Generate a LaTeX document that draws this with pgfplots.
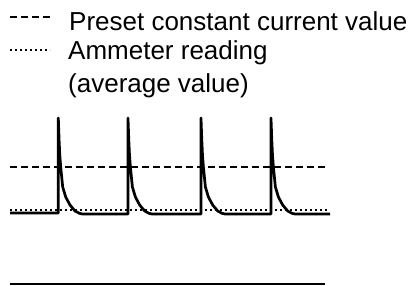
\documentclass[border=0pt]{standalone}
\usepackage{fontspec}
\setmainfont{Liberation Sans}
\usepackage{pgfplots}
\pgfplotsset{compat=1.18}
\begin{document}
\begin{tikzpicture}
\begin{axis}[
  width=415pt, height=285pt, scale only axis,
  xmin=0, xmax=415, ymin=0, ymax=285, y dir=reverse,
  hide axis, clip=false,
]
\addplot[draw=none] coordinates {(0,0) (415,285)};
% legend samples
\addplot[black, line width=2.5pt, dash pattern=on 6.5pt off 4.5pt] coordinates {(10,17) (50,17)};
\addplot[black, line width=2.5pt, dash pattern=on 2.4pt off 2.6pt] coordinates {(10,50) (50,50)};
% preset constant current value
\addplot[black, line width=2.5pt, dash pattern=on 6.5pt off 4.5pt] coordinates {(10,167) (325,167)};
% ammeter reading (average)
\addplot[black, line width=2.5pt, dash pattern=on 2.4pt off 2.6pt] coordinates {(10,210) (328,210)};
% pulse waveform
\addplot[black, line width=2.7pt, line join=round] coordinates {
(10,213) (58.3,213) (58.3,118) (59.1,140) (59.8,155) (60.7,167) (62.7,187) (65.7,197) (70,205) (75,211) (79.3,213.3) (82.3,214)
(128,214) (128,118) (128.8,140) (129.5,155) (130.4,167) (132.4,187) (135.4,197) (139.7,205) (144.7,211) (149,213.3) (152,214)
(201,214) (201,118) (201.8,140) (202.5,155) (203.4,167) (205.4,187) (208.4,197) (212.7,205) (217.7,211) (222,213.3) (225,214)
(271,214) (271,118) (271.8,140) (272.5,155) (273.4,167) (275.4,187) (278.4,197) (282.7,205) (287.7,211) (292,213.3) (295,214)
(330,214)};
% bottom line
\addplot[black, line width=1.5pt] coordinates {(10,284) (325,284)};
\node[anchor=base west, inner sep=0pt, font=\fontsize{26}{31}\selectfont] at (axis cs:69,30) {Preset constant current value};
\node[anchor=base west, inner sep=0pt, font=\fontsize{26}{31}\selectfont] at (axis cs:68,59) {Ammeter reading};
\node[anchor=base west, inner sep=0pt, font=\fontsize{26}{31}\selectfont] at (axis cs:68,92) {(average value)};
\end{axis}
\end{tikzpicture}
\end{document}
